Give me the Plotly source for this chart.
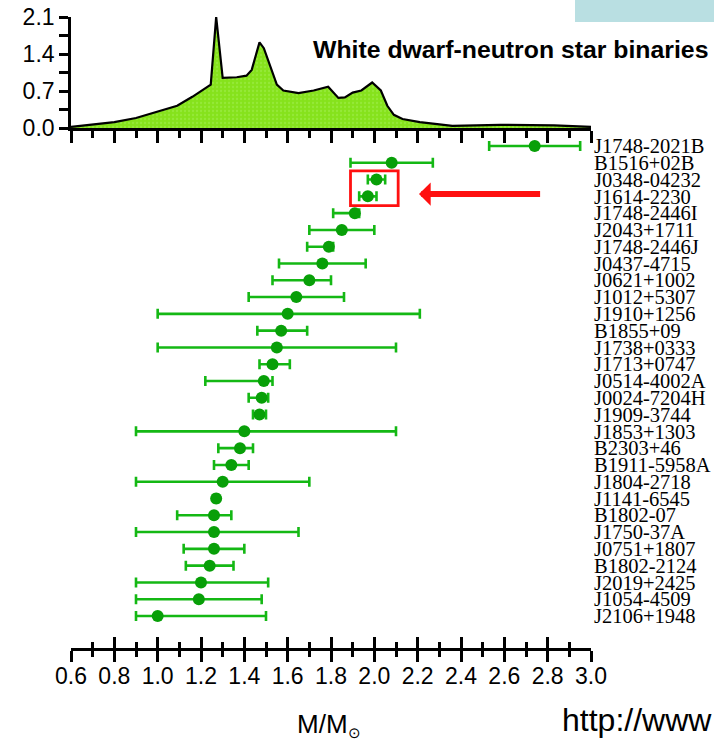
import plotly.graph_objects as go

# Pulsars with white-dwarf companions, listed top to bottom
pulsars = [
    "J1748-2021B", "B1516+02B", "J0348-04232", "J1614-2230", "J1748-2446I",
    "J2043+1711", "J1748-2446J", "J0437-4715", "J0621+1002", "J1012+5307",
    "J1910+1256", "B1855+09", "J1738+0333", "J1713+0747", "J0514-4002A",
    "J0024-7204H", "J1909-3744", "J1853+1303", "B2303+46", "B1911-5958A",
    "J1804-2718", "J1141-6545", "B1802-07", "J1750-37A", "J0751+1807",
    "B1802-2124", "J2019+2425", "J1054-4509", "J2106+1948",
]
mass = [
    2.74, 2.08, 2.01, 1.97, 1.91,
    1.85, 1.79, 1.76, 1.70, 1.64,
    1.60, 1.57, 1.55, 1.53, 1.49,
    1.48, 1.47, 1.40, 1.38, 1.34,
    1.30, 1.27, 1.26, 1.26, 1.26,
    1.24, 1.20, 1.19, 1.00,
]
err_hi = [
    0.21, 0.19, 0.04, 0.04, 0.02,
    0.15, 0.02, 0.20, 0.10, 0.22,
    0.61, 0.12, 0.55, 0.08, 0.04,
    0.03, 0.03, 0.70, 0.06, 0.08,
    0.40, 0.01, 0.08, 0.39, 0.14,
    0.11, 0.31, 0.29, 0.50,
]
err_lo = [
    0.21, 0.19, 0.04, 0.04, 0.10,
    0.15, 0.10, 0.20, 0.17, 0.22,
    0.60, 0.11, 0.55, 0.06, 0.27,
    0.06, 0.03, 0.50, 0.10, 0.08,
    0.40, 0.01, 0.17, 0.36, 0.14,
    0.11, 0.30, 0.29, 0.10,
]
highlighted = ["J0348-04232", "J1614-2230"]

# Summed mass probability density
dist_m = [0.60, 0.70, 0.80, 0.90, 0.995, 1.09, 1.16, 1.23, 1.245, 1.27,
          1.30, 1.365, 1.41, 1.434, 1.449, 1.47, 1.49, 1.518, 1.55, 1.58,
          1.65, 1.72, 1.787, 1.834, 1.864, 1.90, 1.94, 1.99, 2.03, 2.06,
          2.09, 2.13, 2.21, 2.36, 2.58, 2.83, 2.93, 3.00]
dist_p = [0.02, 0.06, 0.11, 0.19, 0.30, 0.42, 0.59, 0.78, 0.82, 2.10,
          0.95, 0.96, 0.99, 1.10, 1.32, 1.62, 1.51, 1.17, 0.82, 0.71,
          0.66, 0.71, 0.78, 0.57, 0.58, 0.67, 0.71, 0.86, 0.71, 0.42,
          0.25, 0.17, 0.11, 0.04, 0.06, 0.05, 0.03, 0.02]

x_ticks = [0.6, 0.8, 1.0, 1.2, 1.4, 1.6, 1.8, 2.0, 2.2, 2.4, 2.6, 2.8, 3.0]
dens_ticks = [0.0, 0.7, 1.4, 2.1]

# ---- page geometry (pixels) ----
W, H = 714, 742
PL, PR, PT, PB = 71, 591, 17, 648          # plot area
SPLIT = 128                                 # baseline of the density panel
ROW_TOP, ROW_BOT = 146, 616                 # centres of first and last rows

n = len(pulsars)
row_y = [n - 1 - i for i in range(n)]
step = (ROW_BOT - ROW_TOP) / (n - 1)
y_lo = -(PB - ROW_BOT) / step
y_hi = (n - 1) + (ROW_TOP - SPLIT) / step
split_frac = (PB - SPLIT) / (PB - PT)


def px_x(px):
    return (px - PL) / (PR - PL)


def px_y(py):
    return (PB - py) / (PB - PT)


BAR = "#14b814"
DOT = "#089f08"
SANS = "Liberation Sans, Arial, sans-serif"
SERIF = "Liberation Serif, Times New Roman, serif"

fig = go.Figure()

fig.add_trace(go.Scatter(
    x=dist_m, y=dist_p, xaxis="x2", yaxis="y2", mode="lines",
    line=dict(color="black", width=2.2), fill="tozeroy",
    fillcolor="#86e21c",
    fillpattern=dict(shape=".", bgcolor="#86e21c", fgcolor="#a4ef55",
                     size=4, solidity=0.25),
    hoverinfo="skip",
))

fig.add_trace(go.Scatter(
    x=mass, y=row_y, mode="markers",
    marker=dict(size=12, color=DOT, line=dict(width=0)),
    error_x=dict(type="data", symmetric=False, array=err_hi,
                 arrayminus=err_lo, color=BAR, thickness=2.6, width=5),
    text=pulsars, hoverinfo="text+x",
))

# carrier for the upward-pointing tick marks of the mass axis
fig.add_trace(go.Scatter(x=[mass[-1]], y=[row_y[-1]], xaxis="x3", yaxis="y",
                         mode="markers", marker=dict(opacity=0),
                         hoverinfo="skip"))

axis_common = dict(range=[0.6, 3.0], showgrid=False, zeroline=False,
                   tick0=0.6, dtick=0.2, tickcolor="black", automargin=False)

fig.update_layout(
    width=W, height=H, paper_bgcolor="white", plot_bgcolor="white",
    margin=dict(l=PL, r=W - PR, t=PT, b=H - PB, pad=0, autoexpand=False),
    showlegend=False,
    xaxis=dict(**axis_common, anchor="y", ticks="outside", ticklen=11,
               tickwidth=2.6, showline=True, linewidth=3, linecolor="black",
               tickvals=x_ticks, ticktext=[f"{v:.1f}" for v in x_ticks],
               ticklabelstandoff=-6,
               tickfont=dict(family=SANS, size=23, color="black"),
               minor=dict(dtick=0.1, tick0=0.6, ticks="outside", ticklen=6,
                          tickwidth=2.6, tickcolor="black")),
    xaxis3=dict(**axis_common, anchor="y", overlaying="x", ticks="inside",
                ticklen=11, tickwidth=2.6, showticklabels=False,
                showline=False,
                minor=dict(dtick=0.1, tick0=0.6, ticks="inside", ticklen=6,
                           tickwidth=2.6, tickcolor="black")),
    xaxis2=dict(**axis_common, anchor="y2", matches="x", ticks="outside",
                ticklen=12, tickwidth=2.6, showline=True, linewidth=2.6,
                linecolor="black", showticklabels=False,
                minor=dict(dtick=0.1, tick0=0.6, ticks="outside", ticklen=7,
                           tickwidth=2.6, tickcolor="black")),
    yaxis=dict(domain=[0, split_frac], anchor="x", side="right",
               range=[y_lo, y_hi], showgrid=False, zeroline=False,
               showline=False, ticks="", tickvals=row_y, ticktext=pulsars,
               ticklabelstandoff=2, automargin=False,
               tickfont=dict(family=SERIF, size=20.5, color="black")),
    yaxis2=dict(domain=[split_frac, 1], anchor="x2", range=[0, 2.1],
                showgrid=False, zeroline=False, showline=True,
                linewidth=2.6, linecolor="black", ticks="outside",
                ticklen=9, tickwidth=2.6, tickcolor="black", automargin=False,
                tickvals=dens_ticks, ticktext=[f"{v:.1f}" for v in dens_ticks],
                tickfont=dict(family=SANS, size=23, color="black"),
                minor=dict(tickvals=[0.35, 1.05, 1.75], ticks="outside",
                           ticklen=9, tickwidth=2.6, tickcolor="black")),
)

# box around the two most precisely measured heavy pulsars
hl_idx = [pulsars.index(p) for p in highlighted]
hl_rows = [row_y[i] for i in hl_idx]
hl_left = min(mass[i] - err_lo[i] for i in hl_idx) - 0.04
hl_right = max(mass[i] + err_hi[i] for i in hl_idx) + 0.06
box_y0 = min(hl_rows) - 0.55
box_y1 = max(hl_rows) + 0.52
fig.add_shape(type="rect", xref="x", yref="y", x0=hl_left, x1=hl_right,
              y0=box_y0, y1=box_y1, line=dict(color="#ff1010", width=2.8))

arrow_y = (box_y0 + box_y1) / 2 - 0.35
fig.add_annotation(x=hl_right + 0.096, y=arrow_y, ax=2.772, ay=arrow_y,
                   xref="x", yref="y", axref="x", ayref="y", text="",
                   showarrow=True, arrowhead=1, arrowsize=0.65,
                   arrowwidth=6, arrowcolor="#ff1010")

# light panel in the top-right corner
fig.add_shape(type="rect", xref="paper", yref="paper",
              x0=px_x(575), x1=px_x(W + 5), y0=px_y(22), y1=px_y(-5),
              line=dict(width=0), fillcolor="#b9dfe2", layer="below")

fig.add_annotation(text="<b>White dwarf-neutron star binaries</b>",
                   xref="paper", yref="paper", x=px_x(311), y=px_y(50),
                   xanchor="left", yanchor="middle", showarrow=False,
                   font=dict(family=SANS, size=24.8, color="black"))

fig.add_annotation(text="M/M<sub><span style='font-size:15px'>\u2299</span></sub>",
                   xref="paper", yref="paper", x=px_x(295), y=px_y(707),
                   xanchor="left", yanchor="top", showarrow=False,
                   font=dict(family=SANS, size=26, color="black"))

fig.add_annotation(text="http://www", xref="paper", yref="paper",
                   x=px_x(560), y=px_y(720), xanchor="left",
                   yanchor="middle", showarrow=False,
                   font=dict(family=SANS, size=32, color="black"))

fig.write_html("out.html")
